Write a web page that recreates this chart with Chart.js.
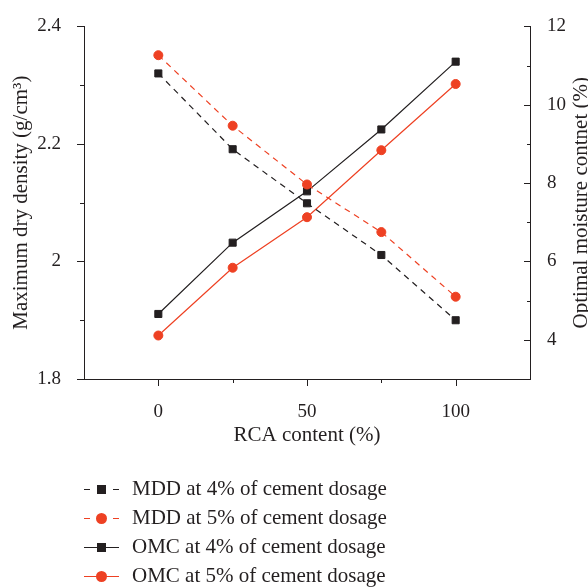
<!DOCTYPE html>
<html>
<head>
<meta charset="utf-8">
<script src="https://cdn.jsdelivr.net/npm/chart.js@4"></script>
<style>
html,body{margin:0;padding:0;background:#fff;}
#wrap{width:588px;height:587px;}
</style>
</head>
<body>
<div id="wrap"><canvas id="c" width="588" height="587"></canvas></div>
<script>
// ---- data ----
const rcaContent = [0, 25, 50, 75, 100];
const mdd4 = [2.320, 2.191, 2.099, 2.011, 1.900];
const mdd5 = [2.351, 2.231, 2.131, 2.050, 1.940];
const omc4 = [4.66, 6.48, 7.79, 9.37, 11.10];
const omc5 = [4.11, 5.84, 7.13, 8.84, 10.53];
const seriesNames = ['MDD at 4% of cement dosage','MDD at 5% of cement dosage','OMC at 4% of cement dosage','OMC at 5% of cement dosage'];
const xTickLabels = [0, 50, 100];
const yLeftTickLabels = [1.8, 2, 2.2, 2.4];
const yRightTickLabels = [4, 6, 8, 10, 12];

const BLACK = '#231f20';
const RED = '#ee4123';
const FONT = "'Liberation Serif', 'Times New Roman', serif";
const pts = arr => rcaContent.map((x, i) => ({x, y: arr[i]}));

function mk(label, data, color, dashed, style, axis, r) {
  return {
    label, data: pts(data), yAxisID: axis,
    borderColor: color, backgroundColor: color,
    borderWidth: 1.2, borderDash: dashed ? [6, 5] : [],
    pointStyle: style, pointRadius: r, pointHoverRadius: r,
    pointBackgroundColor: color, pointBorderColor: color, pointBorderWidth: 1,
    tension: 0, fill: false
  };
}

const near = (v, list) => list.some(t => Math.abs(t - v) < 1e-6);

// custom ticks, right title and legend
const decor = {
  id: 'decor',
  afterDraw(chart) {
    const ctx = chart.ctx;
    const ca = chart.chartArea;
    const sx = chart.scales.x, sy = chart.scales.y, sy1 = chart.scales.y1;
    ctx.save();
    ctx.strokeStyle = BLACK;
    ctx.lineWidth = 1;
    ctx.beginPath();
    // x ticks (downward)
    sx.ticks.forEach(t => {
      if (t.value <= sx.min || t.value >= sx.max) return;
      const p = Math.round(sx.getPixelForValue(t.value)) + 0.5;
      const len = near(t.value, xTickLabels) ? 7 : 4;
      ctx.moveTo(p, ca.bottom); ctx.lineTo(p, ca.bottom + len);
    });
    // left y ticks (outward)
    sy.ticks.forEach(t => {
      const p = Math.round(sy.getPixelForValue(t.value)) + 0.5;
      const len = near(t.value, yLeftTickLabels) ? 7 : 4;
      ctx.moveTo(ca.left, p); ctx.lineTo(ca.left - len, p);
    });
    // right y ticks (inward)
    sy1.ticks.forEach(t => {
      if (t.value <= sy1.min) return;
      const p = Math.round(sy1.getPixelForValue(t.value)) + 0.5;
      const len = near(t.value, yRightTickLabels) ? 6 : 3;
      ctx.moveTo(ca.right, p); ctx.lineTo(ca.right - len, p);
    });
    ctx.stroke();

    // right axis title, reading bottom to top
    ctx.fillStyle = BLACK;
    ctx.font = "21px " + FONT;
    ctx.textAlign = 'center';
    ctx.textBaseline = 'middle';
    ctx.translate(581, (ca.top + ca.bottom) / 2);
    ctx.rotate(-Math.PI / 2);
    ctx.fillText('Optimal moisture contnet (%)', 0, 0);
    ctx.restore();

    // legend
    ctx.save();
    const rowY = [489, 518, 547, 576];
    chart.data.datasets.forEach((ds, i) => {
      const y = rowY[i] + 0.5;
      const x0 = 84, x1 = 119, xm = 101.5;
      ctx.strokeStyle = ds.borderColor;
      ctx.lineWidth = ds.borderWidth;
      ctx.beginPath();
      if (ds.borderDash.length) {
        ctx.moveTo(x0, y); ctx.lineTo(x0 + 6, y);
        ctx.moveTo(x1 - 6, y); ctx.lineTo(x1, y);
      } else {
        ctx.moveTo(x0, y); ctx.lineTo(x1, y);
      }
      ctx.stroke();
      ctx.fillStyle = ds.pointBackgroundColor;
      if (ds.pointStyle === 'rect') {
        ctx.fillRect(xm - 4.5, y - 4.5, 9, 9);
      } else {
        ctx.beginPath(); ctx.arc(xm, y, 5.5, 0, Math.PI * 2); ctx.fill();
      }
      ctx.fillStyle = BLACK;
      ctx.font = "21px " + FONT;
      ctx.textAlign = 'left';
      ctx.textBaseline = 'middle';
      ctx.fillText(ds.label, 132, y);
    });
    ctx.restore();
  }
};

new Chart(document.getElementById('c'), {
  type: 'line',
  data: {
    datasets: [
      mk(seriesNames[0], mdd4, BLACK, true, 'rect', 'y', 5),
      mk(seriesNames[1], mdd5, RED, true, 'circle', 'y', 4.5),
      mk(seriesNames[2], omc4, BLACK, false, 'rect', 'y1', 5),
      mk(seriesNames[3], omc5, RED, false, 'circle', 'y1', 4.5)
    ]
  },
  options: {
    responsive: false,
    animation: false,
    devicePixelRatio: 1,
    layout: {padding: {top: 20, bottom: 133, left: 0, right: 0}},
    plugins: {legend: {display: false}, tooltip: {enabled: false}},
    scales: {
      x: {
        type: 'linear', min: -25, max: 125,
        ticks: {stepSize: 25, color: BLACK, font: {family: FONT, size: 19}, padding: 14,
          callback: v => near(v, xTickLabels) ? String(v) : ''},
        grid: {display: false},
        border: {display: true, color: BLACK, width: 1},
        title: {display: true, text: 'RCA content (%)', color: BLACK, font: {family: FONT, size: 21}, padding: {top: 0, bottom: 6}},
        afterFit: s => { s.height = 75; }
      },
      y: {
        position: 'left', min: 1.8, max: 2.4,
        ticks: {stepSize: 0.1, color: BLACK, font: {family: FONT, size: 19}, padding: 15,
          callback: v => near(v, yLeftTickLabels) ? String(Math.round(v * 10) / 10) : ''},
        grid: {display: false},
        border: {display: true, color: BLACK, width: 1},
        title: {display: true, text: 'Maximum dry density (g/cm³)', color: BLACK, font: {family: FONT, size: 21}, padding: {top: 9, bottom: 0}},
        afterFit: s => { s.width = 84; }
      },
      y1: {
        position: 'right', min: 3, max: 12,
        ticks: {stepSize: 1, color: BLACK, font: {family: FONT, size: 19}, padding: 9,
          callback: v => near(v, yRightTickLabels) ? String(v) : ''},
        grid: {display: false},
        border: {display: true, color: BLACK, width: 1},
        afterFit: s => { s.width = 58; }
      }
    }
  },
  plugins: [decor]
});
</script>
</body>
</html>
